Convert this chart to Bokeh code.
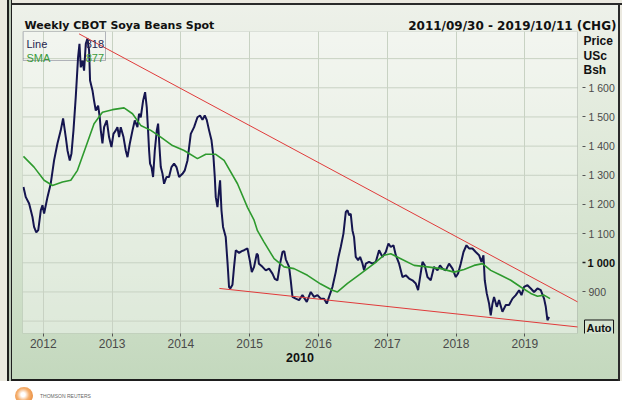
from bokeh.plotting import figure
from bokeh.models import Range1d, FixedTicker, Label, BoxAnnotation, Div, LinearAxis
from bokeh.layouts import column
from bokeh.embed import file_html
from bokeh.resources import INLINE

TITLE = "Weekly CBOT Soya Beans Spot"
PERIOD = "2011/09/30 - 2019/10/11 (CHG)"
X_TICKS = [2012, 2013, 2014, 2015, 2016, 2017, 2018, 2019]
X_AXIS_LABEL = "2010"
Y_TICKS = [900, 1100, 1200, 1300, 1400, 1500, 1600]
Y_TICK_LABELS = ["900", "1 100", "1 200", "1 300", "1 400", "1 500", "1 600"]
Y_BOLD_TICK = 1000
Y_BOLD_LABEL = "1 000"
Y_GRID = [800, 900, 1000, 1100, 1200, 1300, 1400, 1500, 1600, 1700]
UNIT_LINES = ["Price", "USc", "Bsh"]
LEGEND_NAMES = ["Line", "SMA"]
LEGEND_VALUES = ["818", "877"]
AUTO_TEXT = "Auto"

price_t = [2011.712, 2011.746, 2011.794, 2011.843, 2011.866, 2011.898, 2011.927, 2011.964, 2011.988,
           2012.012, 2012.061, 2012.109, 2012.157, 2012.206, 2012.254, 2012.288, 2012.327, 2012.352,
           2012.385, 2012.410, 2012.439, 2012.472, 2012.506, 2012.526, 2012.545, 2012.570, 2012.593,
           2012.618, 2012.642, 2012.666, 2012.680, 2012.715, 2012.738, 2012.763, 2012.797, 2012.821,
           2012.836, 2012.860, 2012.884, 2012.923, 2012.956, 2012.991, 2013.020, 2013.054, 2013.078,
           2013.102, 2013.126, 2013.166, 2013.199, 2013.224, 2013.257, 2013.297, 2013.330, 2013.369,
           2013.392, 2013.417, 2013.451, 2013.480, 2013.504, 2013.523, 2013.538, 2013.552, 2013.573,
           2013.596, 2013.621, 2013.650, 2013.669, 2013.689, 2013.708, 2013.733, 2013.756, 2013.791,
           2013.828, 2013.863, 2013.901, 2013.936, 2013.974, 2014.023, 2014.057, 2014.096, 2014.144,
           2014.192, 2014.241, 2014.279, 2014.314, 2014.347, 2014.376, 2014.410, 2014.445, 2014.474,
           2014.493, 2014.507, 2014.532, 2014.555, 2014.570, 2014.590, 2014.613, 2014.652, 2014.681,
           2014.700, 2014.718, 2014.750, 2014.773, 2014.798, 2014.846, 2014.885, 2014.919, 2014.968,
           2015.001, 2015.031, 2015.064, 2015.103, 2015.120, 2015.134, 2015.186, 2015.234, 2015.282,
           2015.331, 2015.365, 2015.404, 2015.442, 2015.477, 2015.503, 2015.525, 2015.573, 2015.597,
           2015.622, 2015.670, 2015.718, 2015.767, 2015.830, 2015.888, 2015.936, 2015.985, 2016.033,
           2016.081, 2016.121, 2016.154, 2016.203, 2016.251, 2016.291, 2016.324, 2016.363, 2016.397,
           2016.422, 2016.445, 2016.469, 2016.494, 2016.517, 2016.542, 2016.576, 2016.605, 2016.640,
           2016.663, 2016.688, 2016.735, 2016.785, 2016.833, 2016.881, 2016.930, 2016.978, 2017.017,
           2017.051, 2017.090, 2017.124, 2017.172, 2017.221, 2017.269, 2017.317, 2017.366, 2017.414,
           2017.448, 2017.477, 2017.512, 2017.545, 2017.584, 2017.632, 2017.680, 2017.730, 2017.767,
           2017.802, 2017.850, 2017.898, 2017.948, 2017.996, 2018.029, 2018.068, 2018.108, 2018.151,
           2018.189, 2018.238, 2018.286, 2018.334, 2018.369, 2018.398, 2018.417, 2018.446, 2018.480,
           2018.504, 2018.529, 2018.552, 2018.592, 2018.625, 2018.674, 2018.723, 2018.770, 2018.820,
           2018.868, 2018.916, 2018.951, 2018.988, 2019.038, 2019.086, 2019.134, 2019.183, 2019.231,
           2019.279, 2019.304, 2019.328, 2019.352]
price_v = [1260, 1225, 1203, 1157, 1123, 1104, 1112, 1180, 1197,
           1169, 1225, 1272, 1351, 1409, 1454, 1495, 1431, 1385,
           1351, 1375, 1454, 1568, 1705, 1751, 1670, 1693, 1659,
           1751, 1769, 1728, 1625, 1591, 1556, 1522, 1539, 1499,
           1454, 1409, 1465, 1488, 1431, 1397, 1442, 1454, 1465,
           1431, 1465, 1431, 1385, 1362, 1408, 1454, 1488, 1465,
           1511, 1499, 1556, 1585, 1534, 1454, 1385, 1340, 1328,
           1294, 1385, 1454, 1477, 1397, 1328, 1305, 1271, 1294,
           1294, 1328, 1340, 1328, 1294, 1305, 1317, 1351, 1442,
           1465, 1499, 1505, 1490, 1505, 1490, 1454, 1420, 1362,
           1294, 1225, 1191, 1248, 1283, 1180, 1123, 1088, 990,
           917, 912, 925, 986, 1043, 1034, 1040, 1043, 1049,
           1009, 968, 986, 1031, 1026, 997, 986, 974, 980,
           963, 945, 940, 997, 1037, 1040, 1012, 986, 940,
           883, 877, 872, 889, 866, 900, 883, 889, 877,
           877, 860, 883, 917, 968, 1020, 1054, 1100, 1174,
           1180, 1163, 1168, 1111, 1088, 1020, 1009, 1020, 997,
           974, 997, 1003, 997, 1003, 1043, 1020, 1037, 1066,
           1054, 1060, 1026, 997, 951, 957, 946, 940, 929,
           906, 951, 1003, 991, 951, 940, 986, 974, 991,
           980, 974, 997, 980, 951, 963, 997, 1037, 1060,
           1049, 1049, 1037, 1026, 1003, 1026, 940, 895, 860,
           820, 860, 883, 849, 872, 832, 855, 855, 877,
           889, 906, 889, 917, 923, 912, 900, 912, 906,
           877, 849, 803, 814]

sma_t = [2011.712, 2011.866, 2012.012, 2012.134, 2012.279, 2012.400, 2012.497, 2012.618, 2012.738,
         2012.860, 2013.006, 2013.174, 2013.297, 2013.417, 2013.563, 2013.708, 2013.878, 2014.047,
         2014.241, 2014.362, 2014.507, 2014.628, 2014.823, 2014.968, 2015.064, 2015.113, 2015.209,
         2015.355, 2015.500, 2015.645, 2015.840, 2016.033, 2016.203, 2016.276, 2016.422, 2016.615,
         2016.808, 2016.953, 2017.051, 2017.196, 2017.390, 2017.584, 2017.778, 2017.971, 2018.116,
         2018.262, 2018.384, 2018.504, 2018.650, 2018.795, 2018.940, 2019.086, 2019.183, 2019.279,
         2019.366]
sma_v = [1365, 1328, 1283, 1265, 1277, 1283, 1317, 1397, 1477,
         1516, 1525, 1531, 1511, 1471, 1454, 1431, 1402, 1385,
         1357, 1372, 1372, 1351, 1271, 1190, 1146, 1110, 1071,
         1014, 986, 980, 957, 927, 906, 900, 929, 963,
         997, 1026, 1031, 1014, 991, 986, 980, 968, 977,
         991, 997, 974, 957, 940, 917, 895, 885, 889,
         877]

upper_t = [2012.52, 2019.765]
upper_v = [1785, 866]
lower_t = [2014.56, 2019.765]
lower_v = [912, 780]

X_START, X_PLOT_END = 2011.698, 2019.765     # visible plot box
Y_START, Y_END = 757.5, 1793

W, H = 622, 381
FL, FT, FB = 22, 31, 48                      # frame borders (px); frame runs to the right edge
BOX_RIGHT_PX = 577                           # right edge of the drawn plot box (px)
FH = H - FT - FB
X_FRAME_END = X_START + (W - FL) / (BOX_RIGHT_PX - FL) * (X_PLOT_END - X_START)
FONT = "Liberation Sans"
TFONT = "DejaVu Sans"
GRID_COLOR = "#c8d2c3"


def dx(px):
    return X_START + (px - FL) / (BOX_RIGHT_PX - FL) * (X_PLOT_END - X_START)


def dy(py):
    return Y_END - (py - FT) / FH * (Y_END - Y_START)


p = figure(width=W, height=H, output_backend="svg", toolbar_location=None,
           x_range=Range1d(X_START, X_FRAME_END), y_range=Range1d(Y_START, Y_END),
           y_axis_location="right",
           min_border_left=FL, min_border_right=0, min_border_top=FT, min_border_bottom=FB)

p.border_fill_alpha = 0
p.background_fill_alpha = 0
p.outline_line_color = None
p.styles = {
    "background": "linear-gradient(to bottom, #eef1ea 0%, #dfe9d9 40%, #c3d8bd 100%)",
    "box-shadow": ("inset 7px 0 0 #ebe9e0, inset 9px 0 0 #1e1e1e, inset 11px 0 0 #b9c6b5, "
                   "inset 12px 0 0 #1e1e1e, inset 0 3px 0 #ebe9e0, inset 0 5px 0 #2a2a2a, "
                   "inset -2px 0 0 #ebe9e0, inset -4px 0 0 #2a2a2a, inset 0 -2px 0 #1e1e1e"),
}

# plot box (lighter area)
p.add_layout(BoxAnnotation(left=X_START, right=X_PLOT_END, bottom=Y_START, top=Y_END,
                           fill_color="white", fill_alpha=0.38, line_alpha=0, level="image"))

xa = p.xaxis[0]
xa.ticker = FixedTicker(ticks=X_TICKS)
xa.major_label_overrides = {t: str(t) for t in X_TICKS}
xa.axis_line_color = None
xa.minor_tick_line_color = None
xa.major_tick_line_color = "#555555"
xa.major_tick_in = 0
xa.major_tick_out = 3
xa.major_label_standoff = 2
xa.major_label_text_font = FONT
xa.major_label_text_font_size = "12px"
xa.major_label_text_color = "#4a4a4a"

ya = p.yaxis[0]
ya.fixed_location = X_PLOT_END
ya.ticker = FixedTicker(ticks=Y_TICKS)
ya.major_label_overrides = dict(zip(Y_TICKS, Y_TICK_LABELS))
ya.axis_line_color = None
ya.minor_tick_line_color = None
ya.major_tick_line_color = "#555555"
ya.major_tick_in = -5
ya.major_tick_out = 8
ya.major_label_standoff = 3
ya.major_label_text_font = FONT
ya.major_label_text_font_size = "10.5px"
ya.major_label_text_color = "#4a4a4a"

# bold "1 000" tick, second axis pinned to the plot box's right edge
yb = LinearAxis(fixed_location=X_PLOT_END, ticker=FixedTicker(ticks=[Y_BOLD_TICK]),
                major_label_overrides={Y_BOLD_TICK: Y_BOLD_LABEL},
                axis_line_color=None, minor_tick_line_color=None,
                major_tick_line_color="#222222", major_tick_line_width=1.5,
                major_tick_in=-5, major_tick_out=8, major_label_standoff=2,
                major_label_text_font=FONT, major_label_text_font_size="11px",
                major_label_text_font_style="bold", major_label_text_color="#111111")
p.add_layout(yb, "right")

# vertical grid from the grid model; horizontal grid lines limited to the plot box
p.xgrid.ticker = FixedTicker(ticks=X_TICKS)
p.xgrid.grid_line_color = GRID_COLOR
p.ygrid.visible = False
p.segment(x0=[X_START] * len(Y_GRID), x1=[X_PLOT_END] * len(Y_GRID), y0=Y_GRID, y1=Y_GRID,
          line_color=GRID_COLOR, line_width=1, level="underlay")

# outline of the plot box, above the grid
p.add_layout(BoxAnnotation(left=X_START, right=X_PLOT_END, bottom=Y_START, top=Y_END,
                           fill_alpha=0, line_color="#7d867d", line_width=1, level="underlay"))

p.line(price_t, price_v, line_color="#15154f", line_width=2)
p.line(sma_t, sma_v, line_color="#2e9a2e", line_width=1.6)
p.line(upper_t, upper_v, line_color="#e03a3a", line_width=1)
p.line(lower_t, lower_v, line_color="#e03a3a", line_width=1)


def lab(text, px, py, size="11px", bold=False, color="#111111", align="left",
        baseline="alphabetic", font=FONT, place=None, **kw):
    # positions in canvas pixels (origin top-left)
    label = Label(x=px, y=py, x_units="canvas", y_units="canvas", text=text,
                  text_font=font, text_font_size=size,
                  text_font_style="bold" if bold else "normal", text_color=color,
                  text_align=align, text_baseline=baseline, **kw)
    if place is None:
        p.add_layout(label)
    else:
        p.add_layout(label, place)


# titles (side panel, so that they are not clipped to the frame)
lab(TITLE, 24, 25, size="11px", bold=True, font=TFONT, place="above")
lab(PERIOD, 616, 25, size="12px", bold=True, align="right", font=TFONT, place="above")

# x axis caption, centred under the plot box
lab(X_AXIS_LABEL, (FL + BOX_RIGHT_PX) / 2, 357, size="12.5px", bold=True, align="center",
    baseline="middle", place="below")

# unit caption at the top right
for i, t in enumerate(UNIT_LINES):
    lab(t, 583, 40.5 + 14.7 * i, size="12px", bold=True)

# legend box
p.add_layout(BoxAnnotation(left=dx(22.7), right=dx(105), top=dy(31), bottom=dy(60),
                           fill_alpha=0, line_color="#1a1a40", line_width=1))
leg_colors = ["#25254f", "#3a9a3a"]
for i, (n, v) in enumerate(zip(LEGEND_NAMES, LEGEND_VALUES)):
    lab(n, 26, 43 + 14 * i, size="11px", color=leg_colors[i])
    lab(v, 103.5, 43 + 14 * i, size="11px", color=leg_colors[i], align="right")

# Auto box
lab(AUTO_TEXT, 584, 327.5, size="11px", bold=True, baseline="middle",
    border_line_color="#111111", background_fill_color="#d6e4d1", padding=2)

logo = Div(text='<div style="display:flex;align-items:center;height:19px;padding-left:10px;'
                'font:5px Liberation Sans;color:#666;background:#fff">'
                '<span style="display:inline-block;width:18px;height:17px;border-radius:50%;'
                'background:radial-gradient(circle at 45% 45%, #fff 15%, #f5b070 45%, #e88a3a 80%);'
                'margin-right:7px"></span>THOMSON REUTERS</div>',
           width=W, height=19)

layout = column(p, logo)
open("out.html", "w").write(file_html(layout, INLINE))
